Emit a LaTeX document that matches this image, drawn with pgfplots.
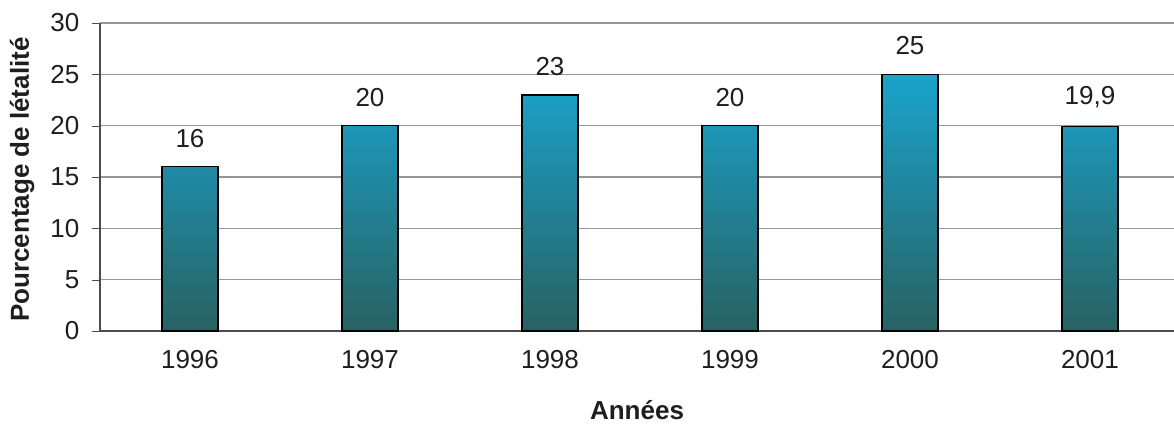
\documentclass[border=0pt]{standalone}
\usepackage{pgfplots}
\pgfplotsset{compat=1.18}
\usepackage{fontspec}
\setmainfont{Liberation Sans}
\definecolor{bartop}{RGB}{26,163,204}
\definecolor{barbot}{RGB}{40,98,98}
\definecolor{gridc}{RGB}{150,150,150}
\definecolor{txt}{RGB}{30,30,30}
\begin{document}
\begin{tikzpicture}[x=1pt,y=1pt]
\begin{axis}[
  scale only axis,
  width=805.5pt, height=231pt,
  xmin=-0.5, xmax=5.467,
  ymin=0, ymax=30,
  ytick={0,5,...,30},
  xtick={0,...,5},
  xticklabels={1996,1997,1998,1999,2000,2001},
  major x tick style={draw=none},
  extra x ticks={-0.5,0.5,1.5,2.5,3.5,4.5},
  extra x tick labels={},
  extra x tick style={major tick length=7pt, tick style={draw=black!70}, grid=none},
  axis x line*=bottom,
  axis y line*=left,
  axis line style={draw=black!70, line width=0.8pt},
  tick align=outside,
  major tick length=6pt,
  ytick style={draw=black!70},
  ymajorgrids,
  grid style={draw=gridc, line width=0.8pt},
  tick label style={font=\fontsize{19.5}{22}\selectfont, text=txt},
  /pgf/number format/assume math mode=true,
  yticklabel style={xshift=-6pt},
  xticklabel style={yshift=-5pt},
  xlabel={\textbf{Années}},
  ylabel={\textbf{Pourcentage de létalité}},
  label style={font=\fontsize{19.5}{22}\selectfont, text=txt},
  xlabel style={at={(rel axis cs:0.5,0)}, anchor=center, yshift=-59pt},
  ylabel style={at={(rel axis cs:0,0.5)}, anchor=center, yshift=58.5pt, xshift=-2pt},
  clip=false,
]
\addplot[ybar, bar width=42pt, draw=black, line width=1pt,
  top color=bartop, bottom color=barbot,
  point meta=explicit symbolic,
  nodes near coords,
  every node near coord/.append style={font=\fontsize{19.5}{22}\selectfont, text=txt, anchor=south, inner sep=0pt, yshift=14pt}]
  coordinates {(0,16)[16] (1,20)[20] (2,23)[23] (3,20)[20] (4,25)[25] (5,19.9)[{19,9}]};
\coordinate (o) at (rel axis cs:0,0);
\end{axis}
\pgfresetboundingbox
\path (o) ++(-75pt,-72.75pt) rectangle ++(880.5pt,321pt);
\end{tikzpicture}
\end{document}
